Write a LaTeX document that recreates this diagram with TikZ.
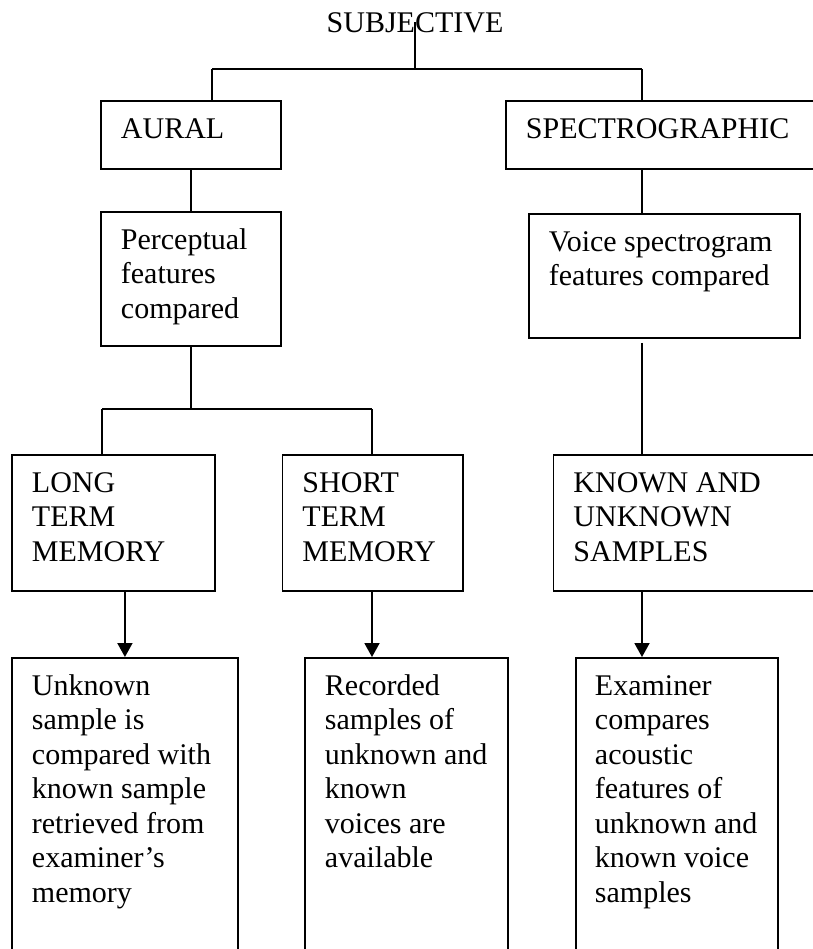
\documentclass[tikz,border=0pt]{standalone}
\usepackage{fontspec}
\setmainfont{Liberation Serif}
\usetikzlibrary{arrows.meta}

\tikzset{
  box/.style 2 args={draw, line width=0.75pt, anchor=north west, inner sep=0pt,
    minimum width=#1*0.4pt, minimum height=#2*0.4pt},
  txt/.style={anchor=base west, inner sep=0pt, font=\fontsize{12}{13.8}\selectfont},
  arr/.style={-{Triangle[length=5.6pt,width=6pt]}},
}
\newcommand{\rows}[1]{\parbox[t]{100pt}{#1}}

\begin{document}
\begin{tikzpicture}[x=0.4pt,y=-0.4pt,line width=0.75pt]
  \useasboundingbox (0,0) rectangle (813,949);
  \clip (0,0) rectangle (813,949);
  %
  \node[txt, anchor=base] (subj) at (415,32) {SUBJECTIVE};
  %
  \node[box={180}{68}] (aural) at (100,100) {};
  \node[txt] (auraltxt) at ([shift={(20,38)}]aural.north west) {AURAL};
  \node[box={330}{68}] (spectro) at (505,100) {};
  \node[txt] (spectrotxt) at ([shift={(20,38)}]spectro.north west) {SPECTROGRAPHIC};
  %
  \node[box={180}{134}] (percep) at (100,211) {};
  \node[txt] (perceptxt) at ([shift={(20,38)}]percep.north west)
    {\rows{Perceptual\\features\\compared}};
  \node[box={271}{124}] (voice) at (528,213) {};
  \node[txt] (voicetxt) at ([shift={(20,38)}]voice.north west)
    {\rows{Voice spectrogram\\features compared}};
  %
  \node[box={203}{136}] (longterm) at (11,454) {};
  \node[txt] (longtermtxt) at ([shift={(20,38)}]longterm.north west)
    {\rows{LONG\\TERM\\MEMORY}};
  \node[box={180.5}{136}] (shortterm) at (281.5,454) {};
  \node[txt] (shorttermtxt) at ([shift={(20,38)}]shortterm.north west)
    {\rows{SHORT\\TERM\\MEMORY}};
  \node[box={280}{136}] (known) at (552.5,454) {};
  \node[txt] (knowntxt) at ([shift={(20,38)}]known.north west)
    {\rows{KNOWN AND\\UNKNOWN\\SAMPLES}};
  %
  \node[box={226}{320}] (unknown) at (11,657) {};
  \node[txt] (unknowntxt) at ([shift={(20,38)}]unknown.north west)
    {\rows{Unknown\\sample is\\compared with\\known sample\\retrieved from\\examiner’s\\memory}};
  \node[box={203}{320}] (recorded) at (304,657) {};
  \node[txt] (recordedtxt) at ([shift={(20,38)}]recorded.north west)
    {\rows{Recorded\\samples of\\unknown and\\known\\voices are\\available}};
  \node[box={202}{320}] (examiner) at (575,657) {};
  \node[txt] (examinertxt) at ([shift={(19,38)}]examiner.north west)
    {\rows{Examiner\\compares\\acoustic\\features of\\unknown and\\known voice\\samples}};
  %
  \coordinate (barAl) at (212,69);
  \coordinate (barAr) at (642,69);
  \draw (subj.center) -- (subj.center |- barAl);
  \draw (barAl) -- (barAr);
  \draw (barAl) -- (barAl |- aural.north);
  \draw (barAr) -- (barAr |- spectro.north);
  \draw (aural.south) -- (percep.north);
  \draw (barAr |- spectro.south) -- (barAr |- voice.north);
  %
  \coordinate (barBl) at (102,409);
  \coordinate (barBr) at (372,409);
  \draw (percep.south) -- (percep.south |- barBl);
  \draw (barBl) -- (barBr);
  \draw (barBl) -- (barBl |- longterm.north);
  \draw (barBr) -- (barBr |- shortterm.north);
  \draw[shorten <=1.6pt] (barAr |- voice.south) -- (barAr |- known.north);
  %
  \draw[arr] (unknown.north |- longterm.south) -- (unknown.north);
  \draw[arr] (barBr |- shortterm.south) -- (barBr |- recorded.north);
  \draw[arr] (barAr |- known.south) -- (barAr |- examiner.north);
  %
\end{tikzpicture}
\end{document}
